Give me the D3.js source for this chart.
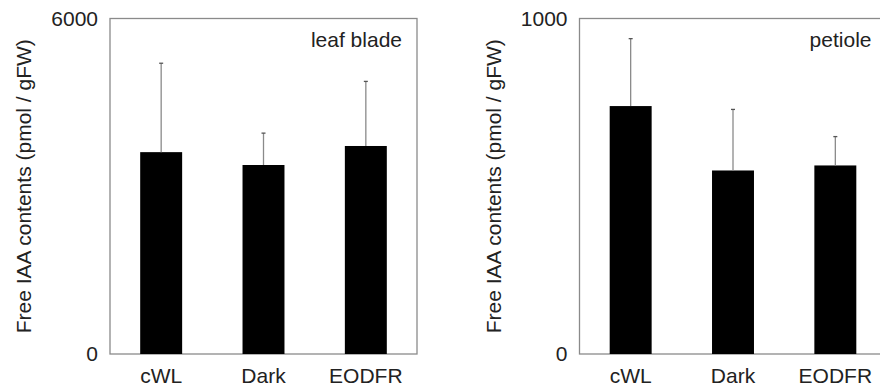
<!DOCTYPE html>
<html>
<head>
<meta charset="utf-8">
<script src="https://cdn.jsdelivr.net/npm/d3@7"></script>
<style>
  body { margin: 0; background: #fff; }
  text { font-family: "Liberation Sans", Arial, sans-serif; fill: #222; }
</style>
</head>
<body>
<div id="chart"></div>
<script>
// data
var categories = ["cWL", "Dark", "EODFR"];
var bladeMean = [3610, 3380, 3720];
var bladeErr = [1590, 570, 1155];
var petioleMean = [739, 547, 562];
var petioleErr = [201, 182, 86];
var bladeTicks = [0, 6000];
var petioleTicks = [0, 1000];

var width = 880, height = 392;
var svg = d3.select("#chart").append("svg")
    .attr("width", width)
    .attr("height", height);

function panel(left, mean, err, ticks, label) {
    var plotW = 307, top = 18.5, bottom = 354;

    var x = d3.scaleBand()
        .domain(categories)
        .range([left, left + plotW])
        .paddingInner(0.59)
        .paddingOuter(0.295);

    var y = d3.scaleLinear()
        .domain([ticks[0], ticks[ticks.length - 1]])
        .range([bottom, top]);

    var g = svg.append("g");

    // frame
    g.append("rect")
        .attr("x", left)
        .attr("y", top)
        .attr("width", plotW)
        .attr("height", bottom - top)
        .attr("fill", "none")
        .attr("stroke", "#8a8a8a")
        .attr("stroke-width", 1.3);

    // bars
    g.selectAll(".bar")
        .data(categories)
        .enter()
        .append("rect")
        .attr("x", function (d) { return x(d); })
        .attr("y", function (d, i) { return y(mean[i]); })
        .attr("width", x.bandwidth())
        .attr("height", function (d, i) { return bottom - y(mean[i]); })
        .attr("fill", "#000");

    // error bars (upper only)
    g.selectAll(".err")
        .data(categories)
        .enter()
        .append("line")
        .attr("x1", function (d) { return x(d) + x.bandwidth() / 2; })
        .attr("x2", function (d) { return x(d) + x.bandwidth() / 2; })
        .attr("y1", function (d, i) { return y(mean[i]); })
        .attr("y2", function (d, i) { return y(mean[i] + err[i]); })
        .attr("stroke", "#8a8a8a")
        .attr("stroke-width", 1.3);

    g.selectAll(".cap")
        .data(categories)
        .enter()
        .append("line")
        .attr("x1", function (d) { return x(d) + x.bandwidth() / 2 - 2; })
        .attr("x2", function (d) { return x(d) + x.bandwidth() / 2 + 2; })
        .attr("y1", function (d, i) { return y(mean[i] + err[i]); })
        .attr("y2", function (d, i) { return y(mean[i] + err[i]); })
        .attr("stroke", "#555")
        .attr("stroke-width", 1.3);

    // y tick labels
    g.selectAll(".ytick")
        .data(ticks)
        .enter()
        .append("text")
        .attr("x", left - 12)
        .attr("y", function (d) { return y(d); })
        .attr("dy", "0.35em")
        .attr("text-anchor", "end")
        .style("font-size", "21px")
        .text(function (d) { return d; });

    // category labels
    g.selectAll(".xlab")
        .data(categories)
        .enter()
        .append("text")
        .attr("x", function (d) { return x(d) + x.bandwidth() / 2; })
        .attr("y", bottom + 29)
        .attr("text-anchor", "middle")
        .style("font-size", "21px")
        .text(function (d) { return d; });

    // y title
    g.append("text")
        .attr("transform", "translate(" + (left - 86) + "," + ((top + bottom) / 2) + ") rotate(-90)")
        .attr("text-anchor", "middle")
        .attr("dy", "0.35em")
        .style("font-size", "21px")
        .text("Free IAA contents (pmol / gFW)");

    // panel label
    g.append("text")
        .attr("x", left + 292)
        .attr("y", 47)
        .attr("text-anchor", "end")
        .style("font-size", "21px")
        .text(label);
}

panel(110, bladeMean, bladeErr, bladeTicks, "leaf blade");
panel(579.5, petioleMean, petioleErr, petioleTicks, "petiole");
</script>
</body>
</html>
